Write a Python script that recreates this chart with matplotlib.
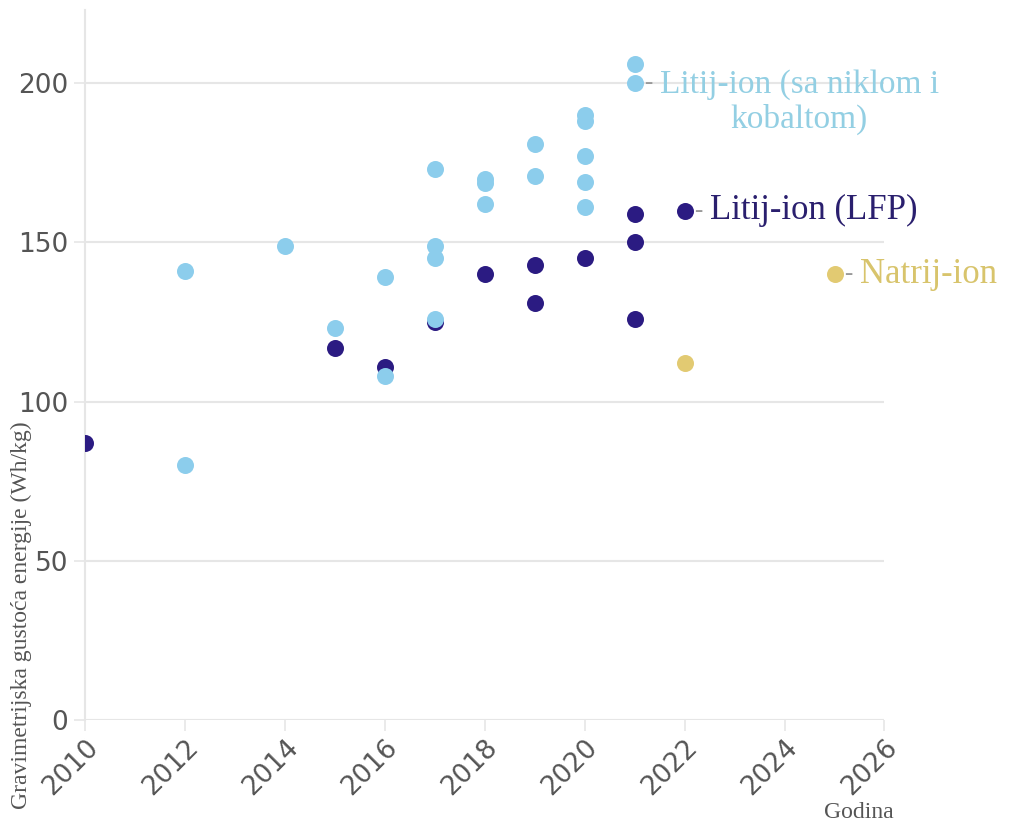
import matplotlib.pyplot as plt

# Litij-ion (sa niklom i kobaltom)
nmc_years = [2012, 2012, 2014, 2015, 2016, 2016, 2017, 2017, 2017, 2017,
             2018, 2018, 2018, 2019, 2019, 2020, 2020, 2020, 2020, 2020,
             2021, 2021]
nmc_vals = [141, 80, 149, 123, 139, 108, 173, 149, 145, 126,
            170, 168.5, 162, 181, 171, 190, 188, 177, 169, 161,
            206, 200]

# Litij-ion (LFP)
lfp_years = [2010, 2015, 2016, 2017, 2018, 2019, 2019, 2020, 2021, 2021, 2021, 2022]
lfp_vals = [87, 117, 111, 125, 140, 143, 131, 145, 159, 150, 126, 160]

# Natrij-ion
na_years = [2022, 2025]
na_vals = [112, 140]

c_nmc = '#8ccdec'
c_lfp = '#2b1b82'
c_na = '#e2ca72'
grid_c = '#e6e6e6'

fig = plt.figure(figsize=(10.12, 8.25), dpi=100)
ax = fig.add_axes([0.084, 0.127, 0.79, 0.861])

ax.scatter(lfp_years, lfp_vals, s=150, color=c_lfp, zorder=3, linewidths=0)
ax.scatter(nmc_years, nmc_vals, s=150, color=c_nmc, zorder=4, linewidths=0)
ax.scatter(na_years, na_vals, s=150, color=c_na, zorder=4, linewidths=0)

ax.set_xlim(2010, 2026)
ax.set_ylim(0, 223)
ax.set_xticks(range(2010, 2027, 2))
ax.set_yticks([0, 50, 100, 150, 200])
ax.yaxis.grid(True, color=grid_c, linewidth=1.5)
ax.set_axisbelow(True)
for s in ['top', 'right', 'bottom']:
    ax.spines[s].set_visible(False)
ax.spines['left'].set_color(grid_c)
ax.spines['left'].set_linewidth(1.5)
ax.tick_params(axis='both', colors=grid_c, width=1.2, length=8, labelcolor='#555555',
               labelsize=19)
ax.tick_params(axis='y', pad=4)
ax.tick_params(axis='x', pad=2)
for lab in ax.get_xticklabels():
    lab.set_rotation(45)
    lab.set_ha('right')
    lab.set_rotation_mode('anchor')

ax.set_ylabel('Gravimetrijska gustoća energije (Wh/kg)', family='Liberation Serif',
              fontsize=17, color='#555555')
ax.yaxis.set_label_coords(-0.066, 0.148)
fig.text(0.883, 0.002, 'Godina', family='Liberation Serif', fontsize=17,
         color='#555555', ha='right', va='bottom')

labels = [
    (2021, 200, 'Litij-ion (sa niklom i\nkobaltom)', '#93cfe3'),
    (2022, 160, 'Litij-ion (LFP)', '#2a1f6e'),
    (2025, 140, 'Natrij-ion', '#d8c46c'),
]
for x, y, txt, col in labels:
    ax.annotate('-', (x, y), xytext=(7, 0), textcoords='offset points',
                ha='left', va='center', color='#999999', fontsize=18,
                family='Liberation Serif', annotation_clip=False)
    multi = '\n' in txt
    ax.annotate(txt, (x, y), xytext=(18, 10 if multi else 0), textcoords='offset points',
                ha='left', va='top' if multi else 'center', multialignment='center',
                color=col, fontsize=24 if multi else 25, family='Liberation Serif',
                annotation_clip=False, linespacing=1.15)

fig.savefig('out.png', dpi=100)
